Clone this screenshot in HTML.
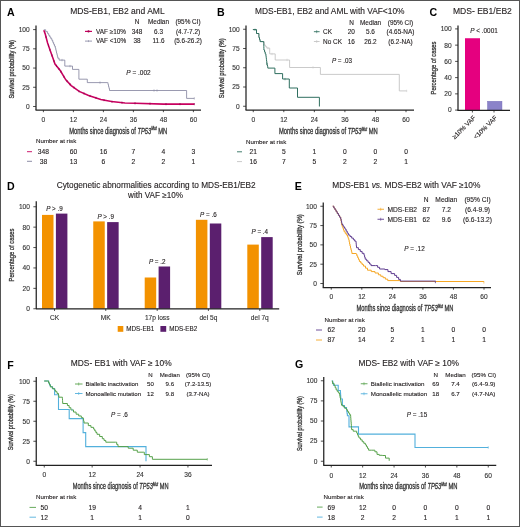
<!DOCTYPE html>
<html><head><meta charset="utf-8"><style>
html,body{margin:0;padding:0;background:#fff;}
body{width:520px;height:527px;overflow:hidden;}
svg{display:block;will-change:transform;}
text{font-family:"Liberation Sans", sans-serif;}
</style></head><body>
<svg width="520" height="527" viewBox="0 0 520 527">
<rect x="0" y="0" width="520" height="527" fill="#fff"/>
<text x="7.10" y="15.64" font-size="10.6" text-anchor="start" fill="#000" stroke="#000" stroke-width="0" font-weight="bold" font-style="normal" >A</text>
<text x="117.40" y="14.24" font-size="8.5" text-anchor="middle" fill="#231f20" stroke="#231f20" stroke-width="0.12" font-weight="normal" font-style="normal" >MDS-EB1, EB2 and AML</text>
<line x1="36" y1="25.5" x2="36" y2="110" stroke="#222" stroke-width="1.25"/>
<line x1="33.1" y1="29.599999999999994" x2="36" y2="29.599999999999994" stroke="#222" stroke-width="0.8"/>
<text x="29.70" y="31.96" font-size="6.6" text-anchor="end" fill="#333" stroke="#333" stroke-width="0.12" font-weight="normal" font-style="normal" >100</text>
<line x1="33.1" y1="48.825" x2="36" y2="48.825" stroke="#222" stroke-width="0.8"/>
<text x="29.70" y="51.19" font-size="6.6" text-anchor="end" fill="#333" stroke="#333" stroke-width="0.12" font-weight="normal" font-style="normal" >75</text>
<line x1="33.1" y1="68.05" x2="36" y2="68.05" stroke="#222" stroke-width="0.8"/>
<text x="29.70" y="70.41" font-size="6.6" text-anchor="end" fill="#333" stroke="#333" stroke-width="0.12" font-weight="normal" font-style="normal" >50</text>
<line x1="33.1" y1="87.275" x2="36" y2="87.275" stroke="#222" stroke-width="0.8"/>
<text x="29.70" y="89.64" font-size="6.6" text-anchor="end" fill="#333" stroke="#333" stroke-width="0.12" font-weight="normal" font-style="normal" >25</text>
<line x1="33.1" y1="106.5" x2="36" y2="106.5" stroke="#222" stroke-width="0.8"/>
<text x="29.70" y="108.86" font-size="6.6" text-anchor="end" fill="#333" stroke="#333" stroke-width="0.12" font-weight="normal" font-style="normal" >0</text>
<line x1="35.5" y1="110" x2="201" y2="110" stroke="#222" stroke-width="1.25"/>
<line x1="43.4" y1="110" x2="43.4" y2="112.2" stroke="#222" stroke-width="0.8"/>
<text x="43.40" y="121.86" font-size="6.6" text-anchor="middle" fill="#333" stroke="#333" stroke-width="0.12" font-weight="normal" font-style="normal" >0</text>
<line x1="73.4" y1="110" x2="73.4" y2="112.2" stroke="#222" stroke-width="0.8"/>
<text x="73.40" y="121.86" font-size="6.6" text-anchor="middle" fill="#333" stroke="#333" stroke-width="0.12" font-weight="normal" font-style="normal" >12</text>
<line x1="103.4" y1="110" x2="103.4" y2="112.2" stroke="#222" stroke-width="0.8"/>
<text x="103.40" y="121.86" font-size="6.6" text-anchor="middle" fill="#333" stroke="#333" stroke-width="0.12" font-weight="normal" font-style="normal" >24</text>
<line x1="133.4" y1="110" x2="133.4" y2="112.2" stroke="#222" stroke-width="0.8"/>
<text x="133.40" y="121.86" font-size="6.6" text-anchor="middle" fill="#333" stroke="#333" stroke-width="0.12" font-weight="normal" font-style="normal" >36</text>
<line x1="163.4" y1="110" x2="163.4" y2="112.2" stroke="#222" stroke-width="0.8"/>
<text x="163.40" y="121.86" font-size="6.6" text-anchor="middle" fill="#333" stroke="#333" stroke-width="0.12" font-weight="normal" font-style="normal" >48</text>
<line x1="193.4" y1="110" x2="193.4" y2="112.2" stroke="#222" stroke-width="0.8"/>
<text x="193.40" y="121.86" font-size="6.6" text-anchor="middle" fill="#333" stroke="#333" stroke-width="0.12" font-weight="normal" font-style="normal" >60</text>
<text x="0" y="0" transform="translate(14.06,69.30) rotate(-90)" font-size="8" text-anchor="middle" fill="#333" stroke="#333" stroke-width="0.3" textLength="58.5" lengthAdjust="spacingAndGlyphs">Survival probability (%)</text>
<text x="118.30" y="133.64" font-size="8.5" text-anchor="middle" fill="#333" stroke="#333" stroke-width="0.3" textLength="98" lengthAdjust="spacingAndGlyphs">Months since diagnosis of <tspan font-style="italic">TP53</tspan><tspan font-style="italic" font-size="4.8" dy="-3.2">Mut</tspan><tspan dy="3.2"> MN</tspan></text>
<text x="137.00" y="24.39" font-size="6.4" text-anchor="middle" fill="#231f20" stroke="#231f20" stroke-width="0.12" font-weight="normal" font-style="normal" >N</text>
<text x="158.50" y="24.39" font-size="6.4" text-anchor="middle" fill="#231f20" stroke="#231f20" stroke-width="0.12" font-weight="normal" font-style="normal" >Median</text>
<text x="188.00" y="24.39" font-size="6.4" text-anchor="middle" fill="#231f20" stroke="#231f20" stroke-width="0.12" font-weight="normal" font-style="normal" >(95% CI)</text>
<line x1="85" y1="31.4" x2="92" y2="31.4" stroke="#c8005f" stroke-width="1.2"/>
<circle cx="88.5" cy="31.4" r="1.1" fill="#a8004f"/>
<line x1="85" y1="41.1" x2="92" y2="41.1" stroke="#80809c" stroke-width="0.8"/>
<line x1="88.50" y1="40.10" x2="88.50" y2="42.10" stroke="#80809c" stroke-width="0.5"/>
<text x="96.00" y="33.69" font-size="6.4" text-anchor="start" fill="#231f20" stroke="#231f20" stroke-width="0.12" font-weight="normal" font-style="normal" >VAF ≥10%</text>
<text x="96.00" y="43.39" font-size="6.4" text-anchor="start" fill="#231f20" stroke="#231f20" stroke-width="0.12" font-weight="normal" font-style="normal" >VAF &lt;10%</text>
<text x="137.00" y="33.69" font-size="6.4" text-anchor="middle" fill="#231f20" stroke="#231f20" stroke-width="0.12" font-weight="normal" font-style="normal" >348</text>
<text x="158.50" y="33.69" font-size="6.4" text-anchor="middle" fill="#231f20" stroke="#231f20" stroke-width="0.12" font-weight="normal" font-style="normal" >6.3</text>
<text x="188.00" y="33.69" font-size="6.4" text-anchor="middle" fill="#231f20" stroke="#231f20" stroke-width="0.12" font-weight="normal" font-style="normal" >(4.7-7.2)</text>
<text x="137.00" y="43.39" font-size="6.4" text-anchor="middle" fill="#231f20" stroke="#231f20" stroke-width="0.12" font-weight="normal" font-style="normal" >38</text>
<text x="158.50" y="43.39" font-size="6.4" text-anchor="middle" fill="#231f20" stroke="#231f20" stroke-width="0.12" font-weight="normal" font-style="normal" >11.6</text>
<text x="188.00" y="43.39" font-size="6.4" text-anchor="middle" fill="#231f20" stroke="#231f20" stroke-width="0.12" font-weight="normal" font-style="normal" >(5.6-26.2)</text>
<text x="138.50" y="74.83" font-size="6.5" text-anchor="middle" fill="#231f20" stroke="#231f20" stroke-width="0.12" font-weight="normal" font-style="normal" ><tspan font-style="italic">P</tspan> = .002</text>
<path d="M43.80,29.80 L45.70,29.80 L45.70,31.70 L47.60,31.70 L47.60,33.60 L48.67,33.60 L48.67,35.30 L49.75,35.30 L49.75,37.00 L50.83,37.00 L50.83,38.70 L51.90,38.70 L51.90,40.40 L52.75,40.40 L52.75,42.30 L53.60,42.30 L53.60,44.20 L54.45,44.20 L54.45,46.10 L55.30,46.10 L55.30,48.00 L55.72,48.00 L55.72,49.70 L56.13,49.70 L56.13,51.40 L56.55,51.40 L56.55,53.10 L56.97,53.10 L56.97,54.80 L57.38,54.80 L57.38,56.50 L57.80,56.50 L57.80,58.20 L59.10,58.20 L59.10,60.10 L64.80,60.10 L64.80,66.10 L72.50,66.10 L72.50,69.40 L78.90,69.40 L78.90,79.20 L87.30,79.20 L87.30,82.60 L107.50,82.60 L108.00,82.60 L108.00,84.57 L108.50,84.57 L108.50,86.55 L109.00,86.55 L109.00,88.53 L109.50,88.53 L109.50,90.50 L186.60,90.50 L186.60,98.40 L194.30,98.40" fill="none" stroke="#80809c" stroke-width="0.8" stroke-linejoin="miter" />
<line x1="62.00" y1="58.90" x2="62.00" y2="61.30" stroke="#80809c" stroke-width="0.5"/>
<line x1="70.00" y1="64.90" x2="70.00" y2="67.30" stroke="#80809c" stroke-width="0.5"/>
<line x1="100.00" y1="81.40" x2="100.00" y2="83.80" stroke="#80809c" stroke-width="0.5"/>
<line x1="154.00" y1="89.30" x2="154.00" y2="91.70" stroke="#80809c" stroke-width="0.5"/>
<line x1="157.00" y1="89.30" x2="157.00" y2="91.70" stroke="#80809c" stroke-width="0.5"/>
<line x1="194.30" y1="97.20" x2="194.30" y2="99.60" stroke="#80809c" stroke-width="0.5"/>
<path d="M43.80,30.20 L45.10,33.60 L47.60,43.00 L50.20,50.60 L52.70,57.40 L55.00,64.00 L60.40,70.80 L65.80,79.80 L71.20,85.60 L79.20,91.40 L88.60,95.50 L100.80,99.50 L111.50,101.60 L125.00,103.00 L135.00,103.30 L163.60,104.10 L194.30,104.10" fill="none" stroke="#c8005f" stroke-width="1.55" stroke-linejoin="miter" />
<line x1="46.00" y1="35.88" x2="46.00" y2="38.08" stroke="#90004a" stroke-width="0.7"/>
<line x1="48.50" y1="44.53" x2="48.50" y2="46.73" stroke="#90004a" stroke-width="0.7"/>
<line x1="50.00" y1="48.92" x2="50.00" y2="51.12" stroke="#90004a" stroke-width="0.7"/>
<line x1="52.00" y1="54.40" x2="52.00" y2="56.60" stroke="#90004a" stroke-width="0.7"/>
<line x1="54.00" y1="60.03" x2="54.00" y2="62.23" stroke="#90004a" stroke-width="0.7"/>
<line x1="56.50" y1="64.79" x2="56.50" y2="66.99" stroke="#90004a" stroke-width="0.7"/>
<line x1="59.00" y1="67.94" x2="59.00" y2="70.14" stroke="#90004a" stroke-width="0.7"/>
<line x1="61.00" y1="70.70" x2="61.00" y2="72.90" stroke="#90004a" stroke-width="0.7"/>
<line x1="64.00" y1="75.70" x2="64.00" y2="77.90" stroke="#90004a" stroke-width="0.7"/>
<line x1="67.00" y1="79.99" x2="67.00" y2="82.19" stroke="#90004a" stroke-width="0.7"/>
<line x1="70.00" y1="83.21" x2="70.00" y2="85.41" stroke="#90004a" stroke-width="0.7"/>
<line x1="74.00" y1="86.53" x2="74.00" y2="88.73" stroke="#90004a" stroke-width="0.7"/>
<line x1="79.00" y1="90.16" x2="79.00" y2="92.36" stroke="#90004a" stroke-width="0.7"/>
<line x1="84.00" y1="92.39" x2="84.00" y2="94.59" stroke="#90004a" stroke-width="0.7"/>
<line x1="90.00" y1="94.86" x2="90.00" y2="97.06" stroke="#90004a" stroke-width="0.7"/>
<line x1="96.00" y1="96.83" x2="96.00" y2="99.03" stroke="#90004a" stroke-width="0.7"/>
<line x1="104.00" y1="99.03" x2="104.00" y2="101.23" stroke="#90004a" stroke-width="0.7"/>
<line x1="112.00" y1="100.55" x2="112.00" y2="102.75" stroke="#90004a" stroke-width="0.7"/>
<line x1="122.00" y1="101.59" x2="122.00" y2="103.79" stroke="#90004a" stroke-width="0.7"/>
<line x1="135.00" y1="102.20" x2="135.00" y2="104.40" stroke="#90004a" stroke-width="0.7"/>
<line x1="150.00" y1="102.62" x2="150.00" y2="104.82" stroke="#90004a" stroke-width="0.7"/>
<line x1="166.00" y1="103.00" x2="166.00" y2="105.20" stroke="#90004a" stroke-width="0.7"/>
<line x1="180.00" y1="103.00" x2="180.00" y2="105.20" stroke="#90004a" stroke-width="0.7"/>
<line x1="194.30" y1="103.00" x2="194.30" y2="105.20" stroke="#90004a" stroke-width="0.7"/>
<text x="36.00" y="143.22" font-size="6.2" text-anchor="start" fill="#231f20" stroke="#231f20" stroke-width="0.12" font-weight="normal" font-style="normal" >Number at risk</text>
<line x1="27" y1="151.7" x2="32" y2="151.7" stroke="#c8005f" stroke-width="0.9"/>
<line x1="27" y1="161.3" x2="32" y2="161.3" stroke="#80809c" stroke-width="0.9"/>
<text x="43.40" y="154.10" font-size="6.7" text-anchor="middle" fill="#231f20" stroke="#231f20" stroke-width="0.12" font-weight="normal" font-style="normal" >348</text>
<text x="73.40" y="154.10" font-size="6.7" text-anchor="middle" fill="#231f20" stroke="#231f20" stroke-width="0.12" font-weight="normal" font-style="normal" >60</text>
<text x="103.40" y="154.10" font-size="6.7" text-anchor="middle" fill="#231f20" stroke="#231f20" stroke-width="0.12" font-weight="normal" font-style="normal" >16</text>
<text x="133.40" y="154.10" font-size="6.7" text-anchor="middle" fill="#231f20" stroke="#231f20" stroke-width="0.12" font-weight="normal" font-style="normal" >7</text>
<text x="163.40" y="154.10" font-size="6.7" text-anchor="middle" fill="#231f20" stroke="#231f20" stroke-width="0.12" font-weight="normal" font-style="normal" >4</text>
<text x="193.40" y="154.10" font-size="6.7" text-anchor="middle" fill="#231f20" stroke="#231f20" stroke-width="0.12" font-weight="normal" font-style="normal" >3</text>
<text x="43.40" y="163.70" font-size="6.7" text-anchor="middle" fill="#231f20" stroke="#231f20" stroke-width="0.12" font-weight="normal" font-style="normal" >38</text>
<text x="73.40" y="163.70" font-size="6.7" text-anchor="middle" fill="#231f20" stroke="#231f20" stroke-width="0.12" font-weight="normal" font-style="normal" >13</text>
<text x="103.40" y="163.70" font-size="6.7" text-anchor="middle" fill="#231f20" stroke="#231f20" stroke-width="0.12" font-weight="normal" font-style="normal" >6</text>
<text x="133.40" y="163.70" font-size="6.7" text-anchor="middle" fill="#231f20" stroke="#231f20" stroke-width="0.12" font-weight="normal" font-style="normal" >2</text>
<text x="163.40" y="163.70" font-size="6.7" text-anchor="middle" fill="#231f20" stroke="#231f20" stroke-width="0.12" font-weight="normal" font-style="normal" >2</text>
<text x="193.40" y="163.70" font-size="6.7" text-anchor="middle" fill="#231f20" stroke="#231f20" stroke-width="0.12" font-weight="normal" font-style="normal" >1</text>
<text x="216.90" y="16.34" font-size="10.6" text-anchor="start" fill="#000" stroke="#000" stroke-width="0" font-weight="bold" font-style="normal" >B</text>
<text x="329.80" y="14.30" font-size="8.37" text-anchor="middle" fill="#231f20" stroke="#231f20" stroke-width="0.12" font-weight="normal" font-style="normal" >MDS-EB1, EB2 and AML with VAF&lt;10%</text>
<line x1="246" y1="25.5" x2="246" y2="110" stroke="#222" stroke-width="1.25"/>
<line x1="243.1" y1="29.25" x2="246" y2="29.25" stroke="#222" stroke-width="0.8"/>
<text x="239.70" y="31.61" font-size="6.6" text-anchor="end" fill="#333" stroke="#333" stroke-width="0.12" font-weight="normal" font-style="normal" >100</text>
<line x1="243.1" y1="48.5" x2="246" y2="48.5" stroke="#222" stroke-width="0.8"/>
<text x="239.70" y="50.86" font-size="6.6" text-anchor="end" fill="#333" stroke="#333" stroke-width="0.12" font-weight="normal" font-style="normal" >75</text>
<line x1="243.1" y1="67.75" x2="246" y2="67.75" stroke="#222" stroke-width="0.8"/>
<text x="239.70" y="70.11" font-size="6.6" text-anchor="end" fill="#333" stroke="#333" stroke-width="0.12" font-weight="normal" font-style="normal" >50</text>
<line x1="243.1" y1="87.0" x2="246" y2="87.0" stroke="#222" stroke-width="0.8"/>
<text x="239.70" y="89.36" font-size="6.6" text-anchor="end" fill="#333" stroke="#333" stroke-width="0.12" font-weight="normal" font-style="normal" >25</text>
<line x1="243.1" y1="106.25" x2="246" y2="106.25" stroke="#222" stroke-width="0.8"/>
<text x="239.70" y="108.61" font-size="6.6" text-anchor="end" fill="#333" stroke="#333" stroke-width="0.12" font-weight="normal" font-style="normal" >0</text>
<line x1="245.5" y1="110" x2="414" y2="110" stroke="#222" stroke-width="1.25"/>
<line x1="253.25" y1="110" x2="253.25" y2="112.2" stroke="#222" stroke-width="0.8"/>
<text x="253.25" y="121.86" font-size="6.6" text-anchor="middle" fill="#333" stroke="#333" stroke-width="0.12" font-weight="normal" font-style="normal" >0</text>
<line x1="283.8" y1="110" x2="283.8" y2="112.2" stroke="#222" stroke-width="0.8"/>
<text x="283.80" y="121.86" font-size="6.6" text-anchor="middle" fill="#333" stroke="#333" stroke-width="0.12" font-weight="normal" font-style="normal" >12</text>
<line x1="314.35" y1="110" x2="314.35" y2="112.2" stroke="#222" stroke-width="0.8"/>
<text x="314.35" y="121.86" font-size="6.6" text-anchor="middle" fill="#333" stroke="#333" stroke-width="0.12" font-weight="normal" font-style="normal" >24</text>
<line x1="344.9" y1="110" x2="344.9" y2="112.2" stroke="#222" stroke-width="0.8"/>
<text x="344.90" y="121.86" font-size="6.6" text-anchor="middle" fill="#333" stroke="#333" stroke-width="0.12" font-weight="normal" font-style="normal" >36</text>
<line x1="375.45" y1="110" x2="375.45" y2="112.2" stroke="#222" stroke-width="0.8"/>
<text x="375.45" y="121.86" font-size="6.6" text-anchor="middle" fill="#333" stroke="#333" stroke-width="0.12" font-weight="normal" font-style="normal" >48</text>
<line x1="406.0" y1="110" x2="406.0" y2="112.2" stroke="#222" stroke-width="0.8"/>
<text x="406.00" y="121.86" font-size="6.6" text-anchor="middle" fill="#333" stroke="#333" stroke-width="0.12" font-weight="normal" font-style="normal" >60</text>
<text x="0" y="0" transform="translate(224.06,68.20) rotate(-90)" font-size="8" text-anchor="middle" fill="#333" stroke="#333" stroke-width="0.3" textLength="60" lengthAdjust="spacingAndGlyphs">Survival probability (%)</text>
<text x="328.40" y="133.84" font-size="8.5" text-anchor="middle" fill="#333" stroke="#333" stroke-width="0.3" textLength="98.8" lengthAdjust="spacingAndGlyphs">Months since diagnosis of <tspan font-style="italic">TP53</tspan><tspan font-style="italic" font-size="4.8" dy="-3.2">Mut</tspan><tspan dy="3.2"> MN</tspan></text>
<text x="351.50" y="25.11" font-size="6.45" text-anchor="middle" fill="#231f20" stroke="#231f20" stroke-width="0.12" font-weight="normal" font-style="normal" >N</text>
<text x="370.50" y="25.11" font-size="6.45" text-anchor="middle" fill="#231f20" stroke="#231f20" stroke-width="0.12" font-weight="normal" font-style="normal" >Median</text>
<text x="400.50" y="25.11" font-size="6.45" text-anchor="middle" fill="#231f20" stroke="#231f20" stroke-width="0.12" font-weight="normal" font-style="normal" >(95% CI)</text>
<line x1="313.9" y1="31.7" x2="319.6" y2="31.7" stroke="#2f6f5f" stroke-width="0.9"/>
<line x1="316.70" y1="30.20" x2="316.70" y2="33.20" stroke="#2f6f5f" stroke-width="0.6"/>
<line x1="313.9" y1="41.5" x2="319.6" y2="41.5" stroke="#c4c4c4" stroke-width="0.9"/>
<line x1="316.70" y1="40.00" x2="316.70" y2="43.00" stroke="#c4c4c4" stroke-width="0.6"/>
<text x="323.10" y="34.01" font-size="6.45" text-anchor="start" fill="#231f20" stroke="#231f20" stroke-width="0.12" font-weight="normal" font-style="normal" >CK</text>
<text x="323.10" y="43.81" font-size="6.45" text-anchor="start" fill="#231f20" stroke="#231f20" stroke-width="0.12" font-weight="normal" font-style="normal" >No CK</text>
<text x="351.30" y="34.01" font-size="6.45" text-anchor="middle" fill="#231f20" stroke="#231f20" stroke-width="0.12" font-weight="normal" font-style="normal" >20</text>
<text x="370.40" y="34.01" font-size="6.45" text-anchor="middle" fill="#231f20" stroke="#231f20" stroke-width="0.12" font-weight="normal" font-style="normal" >5.6</text>
<text x="400.50" y="34.01" font-size="6.45" text-anchor="middle" fill="#231f20" stroke="#231f20" stroke-width="0.12" font-weight="normal" font-style="normal" >(4.65-NA)</text>
<text x="351.30" y="43.81" font-size="6.45" text-anchor="middle" fill="#231f20" stroke="#231f20" stroke-width="0.12" font-weight="normal" font-style="normal" >16</text>
<text x="370.40" y="43.81" font-size="6.45" text-anchor="middle" fill="#231f20" stroke="#231f20" stroke-width="0.12" font-weight="normal" font-style="normal" >26.2</text>
<text x="400.50" y="43.81" font-size="6.45" text-anchor="middle" fill="#231f20" stroke="#231f20" stroke-width="0.12" font-weight="normal" font-style="normal" >(6.2-NA)</text>
<text x="342.00" y="62.56" font-size="6.3" text-anchor="middle" fill="#231f20" stroke="#231f20" stroke-width="0.12" font-weight="normal" font-style="normal" ><tspan font-style="italic">P</tspan> = .03</text>
<path d="M252.90,29.60 L256.50,29.60 L256.50,33.50 L258.90,33.50 L258.90,37.50 L259.50,37.50 L259.50,39.55 L260.10,39.55 L260.10,41.60 L263.70,41.60 L264.05,41.60 L264.05,43.40 L264.40,43.40 L264.40,45.20 L265.60,45.20 L265.60,46.65 L266.80,46.65 L266.80,48.10 L269.70,48.10 L269.70,50.00 L269.70,53.90 L275.20,53.90 L275.20,60.00 L289.60,60.00 L289.60,67.50 L320.40,67.50 L320.40,74.40 L399.30,74.40 L399.30,90.90 L406.70,90.90" fill="none" stroke="#c4c4c4" stroke-width="0.9" stroke-linejoin="miter" />
<line x1="268.00" y1="47.00" x2="268.00" y2="49.40" stroke="#c4c4c4" stroke-width="0.5"/>
<line x1="272.00" y1="52.80" x2="272.00" y2="55.20" stroke="#c4c4c4" stroke-width="0.5"/>
<line x1="287.00" y1="58.70" x2="287.00" y2="61.10" stroke="#c4c4c4" stroke-width="0.5"/>
<line x1="313.00" y1="66.20" x2="313.00" y2="68.60" stroke="#c4c4c4" stroke-width="0.5"/>
<line x1="406.70" y1="89.70" x2="406.70" y2="92.10" stroke="#c4c4c4" stroke-width="0.5"/>
<path d="M252.90,29.60 L256.50,29.60 L256.50,33.50 L258.90,33.50 L258.90,37.50 L259.50,37.50 L259.50,39.55 L260.10,39.55 L260.10,41.60 L263.70,41.60 L263.74,41.60 L263.74,43.28 L263.78,43.28 L263.78,44.96 L263.82,44.96 L263.82,46.64 L263.86,46.64 L263.86,48.32 L263.90,48.32 L263.90,50.00 L264.57,50.00 L264.57,51.93 L265.23,51.93 L265.23,53.87 L265.90,53.87 L265.90,55.80 L266.12,55.80 L266.12,57.60 L266.35,57.60 L266.35,59.40 L266.57,59.40 L266.57,61.20 L266.80,61.20 L266.80,63.00 L267.13,63.00 L267.13,64.70 L267.47,64.70 L267.47,66.40 L267.80,66.40 L267.80,68.10 L274.90,68.10 L274.90,73.60 L282.60,73.60 L282.60,79.00 L289.30,79.00 L289.30,88.00 L297.50,88.00 L297.50,97.30 L319.40,97.30 L319.40,106.50" fill="none" stroke="#2f6f5f" stroke-width="1.0" stroke-linejoin="miter" />
<line x1="255.00" y1="28.60" x2="255.00" y2="31.00" stroke="#2f6f5f" stroke-width="0.5"/>
<line x1="266.50" y1="62.80" x2="266.50" y2="65.20" stroke="#2f6f5f" stroke-width="0.5"/>
<line x1="285.00" y1="77.90" x2="285.00" y2="80.30" stroke="#2f6f5f" stroke-width="0.5"/>
<text x="246.00" y="143.62" font-size="6.2" text-anchor="start" fill="#231f20" stroke="#231f20" stroke-width="0.12" font-weight="normal" font-style="normal" >Number at risk</text>
<line x1="237" y1="151.8" x2="242" y2="151.8" stroke="#2f6f5f" stroke-width="0.9"/>
<line x1="237" y1="161.6" x2="242" y2="161.6" stroke="#c4c4c4" stroke-width="0.9"/>
<text x="253.25" y="154.20" font-size="6.7" text-anchor="middle" fill="#231f20" stroke="#231f20" stroke-width="0.12" font-weight="normal" font-style="normal" >21</text>
<text x="283.80" y="154.20" font-size="6.7" text-anchor="middle" fill="#231f20" stroke="#231f20" stroke-width="0.12" font-weight="normal" font-style="normal" >5</text>
<text x="314.35" y="154.20" font-size="6.7" text-anchor="middle" fill="#231f20" stroke="#231f20" stroke-width="0.12" font-weight="normal" font-style="normal" >1</text>
<text x="344.90" y="154.20" font-size="6.7" text-anchor="middle" fill="#231f20" stroke="#231f20" stroke-width="0.12" font-weight="normal" font-style="normal" >0</text>
<text x="375.45" y="154.20" font-size="6.7" text-anchor="middle" fill="#231f20" stroke="#231f20" stroke-width="0.12" font-weight="normal" font-style="normal" >0</text>
<text x="406.00" y="154.20" font-size="6.7" text-anchor="middle" fill="#231f20" stroke="#231f20" stroke-width="0.12" font-weight="normal" font-style="normal" >0</text>
<text x="253.25" y="164.00" font-size="6.7" text-anchor="middle" fill="#231f20" stroke="#231f20" stroke-width="0.12" font-weight="normal" font-style="normal" >16</text>
<text x="283.80" y="164.00" font-size="6.7" text-anchor="middle" fill="#231f20" stroke="#231f20" stroke-width="0.12" font-weight="normal" font-style="normal" >7</text>
<text x="314.35" y="164.00" font-size="6.7" text-anchor="middle" fill="#231f20" stroke="#231f20" stroke-width="0.12" font-weight="normal" font-style="normal" >5</text>
<text x="344.90" y="164.00" font-size="6.7" text-anchor="middle" fill="#231f20" stroke="#231f20" stroke-width="0.12" font-weight="normal" font-style="normal" >2</text>
<text x="375.45" y="164.00" font-size="6.7" text-anchor="middle" fill="#231f20" stroke="#231f20" stroke-width="0.12" font-weight="normal" font-style="normal" >2</text>
<text x="406.00" y="164.00" font-size="6.7" text-anchor="middle" fill="#231f20" stroke="#231f20" stroke-width="0.12" font-weight="normal" font-style="normal" >1</text>
<text x="429.50" y="16.19" font-size="10.6" text-anchor="start" fill="#000" stroke="#000" stroke-width="0" font-weight="bold" font-style="normal" >C</text>
<text x="482.40" y="14.26" font-size="8.55" text-anchor="middle" fill="#231f20" stroke="#231f20" stroke-width="0.12" font-weight="normal" font-style="normal" >MDS- EB1/EB2</text>
<line x1="458" y1="25.5" x2="458" y2="110.5" stroke="#222" stroke-width="1.25"/>
<line x1="455.1" y1="110.1" x2="458" y2="110.1" stroke="#222" stroke-width="0.8"/>
<text x="451.70" y="112.46" font-size="6.6" text-anchor="end" fill="#333" stroke="#333" stroke-width="0.12" font-weight="normal" font-style="normal" >0</text>
<line x1="455.1" y1="93.86" x2="458" y2="93.86" stroke="#222" stroke-width="0.8"/>
<text x="451.70" y="96.22" font-size="6.6" text-anchor="end" fill="#333" stroke="#333" stroke-width="0.12" font-weight="normal" font-style="normal" >20</text>
<line x1="455.1" y1="77.62" x2="458" y2="77.62" stroke="#222" stroke-width="0.8"/>
<text x="451.70" y="79.98" font-size="6.6" text-anchor="end" fill="#333" stroke="#333" stroke-width="0.12" font-weight="normal" font-style="normal" >40</text>
<line x1="455.1" y1="61.38" x2="458" y2="61.38" stroke="#222" stroke-width="0.8"/>
<text x="451.70" y="63.74" font-size="6.6" text-anchor="end" fill="#333" stroke="#333" stroke-width="0.12" font-weight="normal" font-style="normal" >60</text>
<line x1="455.1" y1="45.14" x2="458" y2="45.14" stroke="#222" stroke-width="0.8"/>
<text x="451.70" y="47.50" font-size="6.6" text-anchor="end" fill="#333" stroke="#333" stroke-width="0.12" font-weight="normal" font-style="normal" >80</text>
<line x1="455.1" y1="28.900000000000006" x2="458" y2="28.900000000000006" stroke="#222" stroke-width="0.8"/>
<text x="451.70" y="31.26" font-size="6.6" text-anchor="end" fill="#333" stroke="#333" stroke-width="0.12" font-weight="normal" font-style="normal" >100</text>
<rect x="465" y="38.24" width="15" height="71.86" fill="#e5007f"/>
<rect x="487.4" y="101.2" width="14.6" height="8.9" fill="#8b83c9" stroke="#7a70b8" stroke-width="0.4"/>
<line x1="457.5" y1="110.3" x2="510" y2="110.3" stroke="#222" stroke-width="1.25"/>
<line x1="472.4" y1="110.3" x2="472.4" y2="112.5" stroke="#222" stroke-width="0.8"/>
<line x1="494" y1="110.3" x2="494" y2="112.5" stroke="#222" stroke-width="0.8"/>
<text x="484.00" y="33.29" font-size="6.4" text-anchor="middle" fill="#231f20" stroke="#231f20" stroke-width="0.12" font-weight="normal" font-style="normal" ><tspan font-style="italic">P</tspan> &lt; .0001</text>
<text x="0" y="0" transform="translate(436.16,68.00) rotate(-90)" font-size="8" text-anchor="middle" fill="#333" stroke="#333" stroke-width="0.3" textLength="53" lengthAdjust="spacingAndGlyphs">Percentage of cases</text>
<text transform="translate(476,118.2) rotate(-45)" font-size="6.4" text-anchor="end" fill="#231f20" stroke="#231f20" stroke-width="0.12">≥10% VAF</text>
<text transform="translate(497.5,118.2) rotate(-45)" font-size="6.4" text-anchor="end" fill="#231f20" stroke="#231f20" stroke-width="0.12">&lt;10% VAF</text>
<text x="7.00" y="189.79" font-size="10.6" text-anchor="start" fill="#000" stroke="#000" stroke-width="0" font-weight="bold" font-style="normal" >D</text>
<text x="156.20" y="188.15" font-size="8.25" text-anchor="middle" fill="#231f20" stroke="#231f20" stroke-width="0.12" font-weight="normal" font-style="normal" >Cytogenetic abnormalities according to MDS-EB1/EB2</text>
<text x="155.50" y="198.42" font-size="8.15" text-anchor="middle" fill="#231f20" stroke="#231f20" stroke-width="0.12" font-weight="normal" font-style="normal" >with VAF ≥10%</text>
<line x1="36.25" y1="201.2" x2="36.25" y2="309" stroke="#222" stroke-width="1.25"/>
<line x1="33.35" y1="308.75" x2="36.25" y2="308.75" stroke="#222" stroke-width="0.8"/>
<text x="29.95" y="311.11" font-size="6.6" text-anchor="end" fill="#333" stroke="#333" stroke-width="0.12" font-weight="normal" font-style="normal" >0</text>
<line x1="33.35" y1="288.35" x2="36.25" y2="288.35" stroke="#222" stroke-width="0.8"/>
<text x="29.95" y="290.71" font-size="6.6" text-anchor="end" fill="#333" stroke="#333" stroke-width="0.12" font-weight="normal" font-style="normal" >20</text>
<line x1="33.35" y1="267.95" x2="36.25" y2="267.95" stroke="#222" stroke-width="0.8"/>
<text x="29.95" y="270.31" font-size="6.6" text-anchor="end" fill="#333" stroke="#333" stroke-width="0.12" font-weight="normal" font-style="normal" >40</text>
<line x1="33.35" y1="247.55" x2="36.25" y2="247.55" stroke="#222" stroke-width="0.8"/>
<text x="29.95" y="249.91" font-size="6.6" text-anchor="end" fill="#333" stroke="#333" stroke-width="0.12" font-weight="normal" font-style="normal" >60</text>
<line x1="33.35" y1="227.15" x2="36.25" y2="227.15" stroke="#222" stroke-width="0.8"/>
<text x="29.95" y="229.51" font-size="6.6" text-anchor="end" fill="#333" stroke="#333" stroke-width="0.12" font-weight="normal" font-style="normal" >80</text>
<line x1="33.35" y1="206.75" x2="36.25" y2="206.75" stroke="#222" stroke-width="0.8"/>
<text x="29.95" y="209.11" font-size="6.6" text-anchor="end" fill="#333" stroke="#333" stroke-width="0.12" font-weight="normal" font-style="normal" >100</text>
<rect x="42.00" y="214.90" width="11.5" height="93.85" fill="#f39200"/>
<rect x="55.90" y="213.60" width="11.5" height="95.15" fill="#5b1f6e"/>
<text x="54.50" y="211.16" font-size="6.3" text-anchor="middle" fill="#231f20" stroke="#231f20" stroke-width="0.12" font-weight="normal" font-style="normal" ><tspan font-style="italic">P</tspan> &gt; .9</text>
<rect x="93.25" y="221.40" width="11.5" height="87.35" fill="#f39200"/>
<rect x="107.15" y="222.10" width="11.5" height="86.65" fill="#5b1f6e"/>
<text x="105.75" y="218.86" font-size="6.3" text-anchor="middle" fill="#231f20" stroke="#231f20" stroke-width="0.12" font-weight="normal" font-style="normal" ><tspan font-style="italic">P</tspan> &gt; .9</text>
<rect x="144.70" y="277.50" width="11.5" height="31.25" fill="#f39200"/>
<rect x="158.60" y="266.50" width="11.5" height="42.25" fill="#5b1f6e"/>
<text x="157.20" y="263.66" font-size="6.3" text-anchor="middle" fill="#231f20" stroke="#231f20" stroke-width="0.12" font-weight="normal" font-style="normal" ><tspan font-style="italic">P</tspan> = .2</text>
<rect x="195.90" y="219.80" width="11.5" height="88.95" fill="#f39200"/>
<rect x="209.80" y="223.50" width="11.5" height="85.25" fill="#5b1f6e"/>
<text x="208.40" y="217.26" font-size="6.3" text-anchor="middle" fill="#231f20" stroke="#231f20" stroke-width="0.12" font-weight="normal" font-style="normal" ><tspan font-style="italic">P</tspan> = .6</text>
<rect x="247.30" y="244.60" width="11.5" height="64.15" fill="#f39200"/>
<rect x="261.20" y="237.10" width="11.5" height="71.65" fill="#5b1f6e"/>
<text x="259.80" y="233.86" font-size="6.3" text-anchor="middle" fill="#231f20" stroke="#231f20" stroke-width="0.12" font-weight="normal" font-style="normal" ><tspan font-style="italic">P</tspan> = .4</text>
<line x1="36" y1="308.75" x2="279.2" y2="308.75" stroke="#222" stroke-width="1.25"/>
<line x1="54.5" y1="308.75" x2="54.5" y2="310.95" stroke="#222" stroke-width="0.8"/>
<text x="54.50" y="319.86" font-size="6.6" text-anchor="middle" fill="#333" stroke="#333" stroke-width="0.12" font-weight="normal" font-style="normal" >CK</text>
<line x1="105.75" y1="308.75" x2="105.75" y2="310.95" stroke="#222" stroke-width="0.8"/>
<text x="105.75" y="319.86" font-size="6.6" text-anchor="middle" fill="#333" stroke="#333" stroke-width="0.12" font-weight="normal" font-style="normal" >MK</text>
<line x1="157.2" y1="308.75" x2="157.2" y2="310.95" stroke="#222" stroke-width="0.8"/>
<text x="157.20" y="319.86" font-size="6.6" text-anchor="middle" fill="#333" stroke="#333" stroke-width="0.12" font-weight="normal" font-style="normal" >17p loss</text>
<line x1="208.4" y1="308.75" x2="208.4" y2="310.95" stroke="#222" stroke-width="0.8"/>
<text x="208.40" y="319.86" font-size="6.6" text-anchor="middle" fill="#333" stroke="#333" stroke-width="0.12" font-weight="normal" font-style="normal" >del 5q</text>
<line x1="259.8" y1="308.75" x2="259.8" y2="310.95" stroke="#222" stroke-width="0.8"/>
<text x="259.80" y="319.86" font-size="6.6" text-anchor="middle" fill="#333" stroke="#333" stroke-width="0.12" font-weight="normal" font-style="normal" >del 7q</text>
<text x="0" y="0" transform="translate(14.06,255.00) rotate(-90)" font-size="8" text-anchor="middle" fill="#333" stroke="#333" stroke-width="0.3" textLength="53" lengthAdjust="spacingAndGlyphs">Percentage of cases</text>
<rect x="117.7" y="326" width="5.6" height="5.8" fill="#f39200"/>
<text x="126.30" y="331.46" font-size="6.3" text-anchor="start" fill="#231f20" stroke="#231f20" stroke-width="0.12" font-weight="normal" font-style="normal" >MDS-EB1</text>
<rect x="160.4" y="326" width="5.8" height="5.8" fill="#5b1f6e"/>
<text x="169.20" y="331.46" font-size="6.3" text-anchor="start" fill="#231f20" stroke="#231f20" stroke-width="0.12" font-weight="normal" font-style="normal" >MDS-EB2</text>
<text x="294.80" y="189.64" font-size="10.6" text-anchor="start" fill="#000" stroke="#000" stroke-width="0" font-weight="bold" font-style="normal" >E</text>
<text x="406.3" y="187.59" font-size="8.35" stroke="#231f20" stroke-width="0.12" text-anchor="middle" fill="#231f20">MDS-EB1 <tspan font-style="italic">vs.</tspan> MDS-EB2 with VAF ≥10%</text>
<line x1="323.25" y1="202.5" x2="323.25" y2="287.5" stroke="#222" stroke-width="1.25"/>
<line x1="320.35" y1="206.25" x2="323.25" y2="206.25" stroke="#222" stroke-width="0.8"/>
<text x="316.95" y="208.61" font-size="6.6" text-anchor="end" fill="#333" stroke="#333" stroke-width="0.12" font-weight="normal" font-style="normal" >100</text>
<line x1="320.35" y1="225.5625" x2="323.25" y2="225.5625" stroke="#222" stroke-width="0.8"/>
<text x="316.95" y="227.93" font-size="6.6" text-anchor="end" fill="#333" stroke="#333" stroke-width="0.12" font-weight="normal" font-style="normal" >75</text>
<line x1="320.35" y1="244.875" x2="323.25" y2="244.875" stroke="#222" stroke-width="0.8"/>
<text x="316.95" y="247.24" font-size="6.6" text-anchor="end" fill="#333" stroke="#333" stroke-width="0.12" font-weight="normal" font-style="normal" >50</text>
<line x1="320.35" y1="264.1875" x2="323.25" y2="264.1875" stroke="#222" stroke-width="0.8"/>
<text x="316.95" y="266.55" font-size="6.6" text-anchor="end" fill="#333" stroke="#333" stroke-width="0.12" font-weight="normal" font-style="normal" >25</text>
<line x1="320.35" y1="283.5" x2="323.25" y2="283.5" stroke="#222" stroke-width="0.8"/>
<text x="316.95" y="285.86" font-size="6.6" text-anchor="end" fill="#333" stroke="#333" stroke-width="0.12" font-weight="normal" font-style="normal" >0</text>
<line x1="322.7" y1="287.5" x2="491" y2="287.5" stroke="#222" stroke-width="1.25"/>
<line x1="331.25" y1="287.5" x2="331.25" y2="289.7" stroke="#222" stroke-width="0.8"/>
<text x="331.25" y="299.36" font-size="6.6" text-anchor="middle" fill="#333" stroke="#333" stroke-width="0.12" font-weight="normal" font-style="normal" >0</text>
<line x1="361.8" y1="287.5" x2="361.8" y2="289.7" stroke="#222" stroke-width="0.8"/>
<text x="361.80" y="299.36" font-size="6.6" text-anchor="middle" fill="#333" stroke="#333" stroke-width="0.12" font-weight="normal" font-style="normal" >12</text>
<line x1="392.35" y1="287.5" x2="392.35" y2="289.7" stroke="#222" stroke-width="0.8"/>
<text x="392.35" y="299.36" font-size="6.6" text-anchor="middle" fill="#333" stroke="#333" stroke-width="0.12" font-weight="normal" font-style="normal" >24</text>
<line x1="422.9" y1="287.5" x2="422.9" y2="289.7" stroke="#222" stroke-width="0.8"/>
<text x="422.90" y="299.36" font-size="6.6" text-anchor="middle" fill="#333" stroke="#333" stroke-width="0.12" font-weight="normal" font-style="normal" >36</text>
<line x1="453.45" y1="287.5" x2="453.45" y2="289.7" stroke="#222" stroke-width="0.8"/>
<text x="453.45" y="299.36" font-size="6.6" text-anchor="middle" fill="#333" stroke="#333" stroke-width="0.12" font-weight="normal" font-style="normal" >48</text>
<line x1="484.0" y1="287.5" x2="484.0" y2="289.7" stroke="#222" stroke-width="0.8"/>
<text x="484.00" y="299.36" font-size="6.6" text-anchor="middle" fill="#333" stroke="#333" stroke-width="0.12" font-weight="normal" font-style="normal" >60</text>
<text x="0" y="0" transform="translate(301.56,244.70) rotate(-90)" font-size="8" text-anchor="middle" fill="#333" stroke="#333" stroke-width="0.3" textLength="61" lengthAdjust="spacingAndGlyphs">Survival probability (%)</text>
<text x="405.00" y="311.24" font-size="8.5" text-anchor="middle" fill="#333" stroke="#333" stroke-width="0.3" textLength="97" lengthAdjust="spacingAndGlyphs">Months since diagnosis of <tspan font-style="italic">TP53</tspan><tspan font-style="italic" font-size="4.8" dy="-3.2">Mut</tspan><tspan dy="3.2"> MN</tspan></text>
<text x="426.25" y="202.38" font-size="6.65" text-anchor="middle" fill="#231f20" stroke="#231f20" stroke-width="0.12" font-weight="normal" font-style="normal" >N</text>
<text x="446.25" y="202.38" font-size="6.65" text-anchor="middle" fill="#231f20" stroke="#231f20" stroke-width="0.12" font-weight="normal" font-style="normal" >Median</text>
<text x="477.50" y="202.38" font-size="6.65" text-anchor="middle" fill="#231f20" stroke="#231f20" stroke-width="0.12" font-weight="normal" font-style="normal" >(95% CI)</text>
<line x1="377.5" y1="209.25" x2="384" y2="209.25" stroke="#f5a623" stroke-width="0.9"/>
<line x1="380.70" y1="207.75" x2="380.70" y2="210.75" stroke="#f5a623" stroke-width="0.6"/>
<line x1="377.5" y1="219.25" x2="384" y2="219.25" stroke="#5e3c8f" stroke-width="0.9"/>
<line x1="380.70" y1="217.75" x2="380.70" y2="220.75" stroke="#5e3c8f" stroke-width="0.6"/>
<text x="387.50" y="211.63" font-size="6.65" text-anchor="start" fill="#231f20" stroke="#231f20" stroke-width="0.12" font-weight="normal" font-style="normal" >MDS-EB2</text>
<text x="387.50" y="221.63" font-size="6.65" text-anchor="start" fill="#231f20" stroke="#231f20" stroke-width="0.12" font-weight="normal" font-style="normal" >MDS-EB1</text>
<text x="426.25" y="211.63" font-size="6.65" text-anchor="middle" fill="#231f20" stroke="#231f20" stroke-width="0.12" font-weight="normal" font-style="normal" >87</text>
<text x="446.25" y="211.63" font-size="6.65" text-anchor="middle" fill="#231f20" stroke="#231f20" stroke-width="0.12" font-weight="normal" font-style="normal" >7.2</text>
<text x="477.50" y="211.63" font-size="6.65" text-anchor="middle" fill="#231f20" stroke="#231f20" stroke-width="0.12" font-weight="normal" font-style="normal" >(6.4-9.9)</text>
<text x="426.25" y="221.63" font-size="6.65" text-anchor="middle" fill="#231f20" stroke="#231f20" stroke-width="0.12" font-weight="normal" font-style="normal" >62</text>
<text x="446.25" y="221.63" font-size="6.65" text-anchor="middle" fill="#231f20" stroke="#231f20" stroke-width="0.12" font-weight="normal" font-style="normal" >9.6</text>
<text x="477.50" y="221.63" font-size="6.65" text-anchor="middle" fill="#231f20" stroke="#231f20" stroke-width="0.12" font-weight="normal" font-style="normal" >(6.6-13.2)</text>
<text x="414.50" y="251.04" font-size="6.4" text-anchor="middle" fill="#231f20" stroke="#231f20" stroke-width="0.12" font-weight="normal" font-style="normal" ><tspan font-style="italic">P</tspan> = .12</text>
<path d="M332.70,206.20 L333.84,206.20 L333.84,208.03 L334.99,208.03 L334.99,209.86 L336.13,209.86 L336.13,211.69 L337.27,211.69 L337.27,213.51 L338.41,213.51 L338.41,215.34 L339.56,215.34 L339.56,217.17 L340.70,217.17 L340.70,219.00 L341.00,219.00 L341.00,220.97 L341.30,220.97 L341.30,222.93 L341.60,222.93 L341.60,224.90 L342.23,224.90 L342.23,226.60 L342.85,226.60 L342.85,228.30 L343.48,228.30 L343.48,230.00 L344.10,230.00 L344.10,231.70 L345.23,231.70 L345.23,233.37 L346.37,233.37 L346.37,235.03 L347.50,235.03 L347.50,236.70 L348.15,236.70 L348.15,238.40 L348.80,238.40 L348.80,240.10 L349.20,240.10 L349.20,242.07 L349.60,242.07 L349.60,244.03 L350.00,244.03 L350.00,246.00 L350.48,246.00 L350.48,247.88 L350.95,247.88 L350.95,249.75 L351.42,249.75 L351.42,251.62 L351.90,251.62 L351.90,253.50 L356.00,253.50 L356.00,254.00 L356.85,254.00 L356.85,255.88 L357.70,255.88 L357.70,257.75 L358.55,257.75 L358.55,259.62 L359.40,259.62 L359.40,261.50 L360.77,261.50 L360.77,263.03 L362.13,263.03 L362.13,264.57 L363.50,264.57 L363.50,266.10 L365.50,266.10 L365.50,268.15 L367.50,268.15 L367.50,270.20 L371.25,270.20 L371.25,271.60 L375.00,271.60 L375.00,273.00 L378.40,273.00 L378.40,274.80 L380.75,274.80 L380.75,276.25 L383.10,276.25 L383.10,277.70 L385.40,277.70 L385.40,279.15 L387.70,279.15 L387.70,280.60 L400.40,280.60 L400.40,281.50 L483.90,281.50" fill="none" stroke="#f5a623" stroke-width="1.0" stroke-linejoin="miter" />
<path d="M332.70,206.20 L333.84,206.20 L333.84,208.03 L334.99,208.03 L334.99,209.86 L336.13,209.86 L336.13,211.69 L337.27,211.69 L337.27,213.51 L338.41,213.51 L338.41,215.34 L339.56,215.34 L339.56,217.17 L340.70,217.17 L340.70,219.00 L341.13,219.00 L341.13,220.83 L341.57,220.83 L341.57,222.67 L342.00,222.67 L342.00,224.50 L343.00,224.50 L343.00,226.03 L344.00,226.03 L344.00,227.57 L345.00,227.57 L345.00,229.10 L346.10,229.10 L346.10,231.07 L347.20,231.07 L347.20,233.03 L348.30,233.03 L348.30,235.00 L350.00,235.00 L350.00,236.57 L351.70,236.57 L351.70,238.13 L353.40,238.13 L353.40,239.70 L354.70,239.70 L354.70,241.10 L356.00,241.10 L356.00,242.50 L356.17,242.50 L356.17,244.23 L356.33,244.23 L356.33,245.97 L356.50,245.97 L356.50,247.70 L358.38,247.70 L358.38,249.57 L360.25,249.57 L360.25,251.45 L362.12,251.45 L362.12,253.32 L364.00,253.32 L364.00,255.20 L364.60,255.20 L364.60,257.20 L365.20,257.20 L365.20,259.20 L366.65,259.20 L366.65,260.80 L368.10,260.80 L368.10,262.40 L369.55,262.40 L369.55,264.00 L371.00,264.00 L371.00,265.60 L375.60,265.60 L377.60,265.60 L377.60,267.30 L379.60,267.30 L379.60,269.00 L384.80,269.00 L384.80,269.60 L387.95,269.60 L387.95,271.60 L391.10,271.60 L391.10,273.60 L394.60,273.60 L394.60,275.40 L396.60,275.40 L396.60,277.40 L398.60,277.40 L398.60,279.40 L400.40,279.40 L400.40,281.10 L435.40,281.10" fill="none" stroke="#5e3c8f" stroke-width="1.0" stroke-linejoin="miter" />
<line x1="435.40" y1="280.80" x2="435.40" y2="283.20" stroke="#5e3c8f" stroke-width="0.8"/>
<line x1="483.90" y1="281.20" x2="483.90" y2="283.60" stroke="#f5a623" stroke-width="0.6"/>
<text x="324.50" y="321.72" font-size="6.2" text-anchor="start" fill="#231f20" stroke="#231f20" stroke-width="0.12" font-weight="normal" font-style="normal" >Number at risk</text>
<line x1="316" y1="330" x2="322" y2="330" stroke="#5e3c8f" stroke-width="0.9"/>
<line x1="316" y1="340" x2="322" y2="340" stroke="#f5a623" stroke-width="0.9"/>
<text x="331.25" y="332.40" font-size="6.7" text-anchor="middle" fill="#231f20" stroke="#231f20" stroke-width="0.12" font-weight="normal" font-style="normal" >62</text>
<text x="361.80" y="332.40" font-size="6.7" text-anchor="middle" fill="#231f20" stroke="#231f20" stroke-width="0.12" font-weight="normal" font-style="normal" >20</text>
<text x="392.35" y="332.40" font-size="6.7" text-anchor="middle" fill="#231f20" stroke="#231f20" stroke-width="0.12" font-weight="normal" font-style="normal" >5</text>
<text x="422.90" y="332.40" font-size="6.7" text-anchor="middle" fill="#231f20" stroke="#231f20" stroke-width="0.12" font-weight="normal" font-style="normal" >1</text>
<text x="453.45" y="332.40" font-size="6.7" text-anchor="middle" fill="#231f20" stroke="#231f20" stroke-width="0.12" font-weight="normal" font-style="normal" >0</text>
<text x="484.00" y="332.40" font-size="6.7" text-anchor="middle" fill="#231f20" stroke="#231f20" stroke-width="0.12" font-weight="normal" font-style="normal" >0</text>
<text x="331.25" y="342.40" font-size="6.7" text-anchor="middle" fill="#231f20" stroke="#231f20" stroke-width="0.12" font-weight="normal" font-style="normal" >87</text>
<text x="361.80" y="342.40" font-size="6.7" text-anchor="middle" fill="#231f20" stroke="#231f20" stroke-width="0.12" font-weight="normal" font-style="normal" >14</text>
<text x="392.35" y="342.40" font-size="6.7" text-anchor="middle" fill="#231f20" stroke="#231f20" stroke-width="0.12" font-weight="normal" font-style="normal" >2</text>
<text x="422.90" y="342.40" font-size="6.7" text-anchor="middle" fill="#231f20" stroke="#231f20" stroke-width="0.12" font-weight="normal" font-style="normal" >1</text>
<text x="453.45" y="342.40" font-size="6.7" text-anchor="middle" fill="#231f20" stroke="#231f20" stroke-width="0.12" font-weight="normal" font-style="normal" >1</text>
<text x="484.00" y="342.40" font-size="6.7" text-anchor="middle" fill="#231f20" stroke="#231f20" stroke-width="0.12" font-weight="normal" font-style="normal" >1</text>
<text x="7.30" y="368.54" font-size="10.6" text-anchor="start" fill="#000" stroke="#000" stroke-width="0" font-weight="bold" font-style="normal" >F</text>
<text x="121.20" y="365.71" font-size="8.4" text-anchor="middle" fill="#231f20" stroke="#231f20" stroke-width="0.12" font-weight="normal" font-style="normal" >MDS- EB1 with VAF ≥ 10%</text>
<line x1="36.25" y1="377" x2="36.25" y2="465.3" stroke="#222" stroke-width="1.25"/>
<line x1="33.35" y1="381.25" x2="36.25" y2="381.25" stroke="#222" stroke-width="0.8"/>
<text x="29.95" y="383.61" font-size="6.6" text-anchor="end" fill="#333" stroke="#333" stroke-width="0.12" font-weight="normal" font-style="normal" >100</text>
<line x1="33.35" y1="401.25" x2="36.25" y2="401.25" stroke="#222" stroke-width="0.8"/>
<text x="29.95" y="403.61" font-size="6.6" text-anchor="end" fill="#333" stroke="#333" stroke-width="0.12" font-weight="normal" font-style="normal" >75</text>
<line x1="33.35" y1="421.25" x2="36.25" y2="421.25" stroke="#222" stroke-width="0.8"/>
<text x="29.95" y="423.61" font-size="6.6" text-anchor="end" fill="#333" stroke="#333" stroke-width="0.12" font-weight="normal" font-style="normal" >50</text>
<line x1="33.35" y1="441.25" x2="36.25" y2="441.25" stroke="#222" stroke-width="0.8"/>
<text x="29.95" y="443.61" font-size="6.6" text-anchor="end" fill="#333" stroke="#333" stroke-width="0.12" font-weight="normal" font-style="normal" >25</text>
<line x1="33.35" y1="461.25" x2="36.25" y2="461.25" stroke="#222" stroke-width="0.8"/>
<text x="29.95" y="463.61" font-size="6.6" text-anchor="end" fill="#333" stroke="#333" stroke-width="0.12" font-weight="normal" font-style="normal" >0</text>
<line x1="35.7" y1="465.3" x2="212" y2="465.3" stroke="#222" stroke-width="1.25"/>
<line x1="44.25" y1="465.3" x2="44.25" y2="467.5" stroke="#222" stroke-width="0.8"/>
<text x="44.25" y="477.46" font-size="6.6" text-anchor="middle" fill="#333" stroke="#333" stroke-width="0.12" font-weight="normal" font-style="normal" >0</text>
<line x1="92.15" y1="465.3" x2="92.15" y2="467.5" stroke="#222" stroke-width="0.8"/>
<text x="92.15" y="477.46" font-size="6.6" text-anchor="middle" fill="#333" stroke="#333" stroke-width="0.12" font-weight="normal" font-style="normal" >12</text>
<line x1="140.05" y1="465.3" x2="140.05" y2="467.5" stroke="#222" stroke-width="0.8"/>
<text x="140.05" y="477.46" font-size="6.6" text-anchor="middle" fill="#333" stroke="#333" stroke-width="0.12" font-weight="normal" font-style="normal" >24</text>
<line x1="187.95" y1="465.3" x2="187.95" y2="467.5" stroke="#222" stroke-width="0.8"/>
<text x="187.95" y="477.46" font-size="6.6" text-anchor="middle" fill="#333" stroke="#333" stroke-width="0.12" font-weight="normal" font-style="normal" >36</text>
<text x="0" y="0" transform="translate(13.46,422.20) rotate(-90)" font-size="8" text-anchor="middle" fill="#333" stroke="#333" stroke-width="0.3" textLength="56" lengthAdjust="spacingAndGlyphs">Survival probability (%)</text>
<text x="120.60" y="489.24" font-size="8.5" text-anchor="middle" fill="#333" stroke="#333" stroke-width="0.3" textLength="95.8" lengthAdjust="spacingAndGlyphs">Months since diagnosis of <tspan font-style="italic">TP53</tspan><tspan font-style="italic" font-size="4.8" dy="-3.2">Mut</tspan><tspan dy="3.2"> MN</tspan></text>
<text x="150.40" y="376.98" font-size="6.1" text-anchor="middle" fill="#231f20" stroke="#231f20" stroke-width="0.12" font-weight="normal" font-style="normal" >N</text>
<text x="169.80" y="376.98" font-size="6.1" text-anchor="middle" fill="#231f20" stroke="#231f20" stroke-width="0.12" font-weight="normal" font-style="normal" >Median</text>
<text x="198.00" y="376.98" font-size="6.1" text-anchor="middle" fill="#231f20" stroke="#231f20" stroke-width="0.12" font-weight="normal" font-style="normal" >(95% CI)</text>
<line x1="75" y1="384" x2="82.5" y2="384" stroke="#57a24b" stroke-width="0.9"/>
<line x1="78.70" y1="382.50" x2="78.70" y2="385.50" stroke="#57a24b" stroke-width="0.6"/>
<line x1="75" y1="393.5" x2="82.5" y2="393.5" stroke="#52b0dc" stroke-width="0.9"/>
<line x1="78.70" y1="392.00" x2="78.70" y2="395.00" stroke="#52b0dc" stroke-width="0.6"/>
<text x="85.50" y="386.18" font-size="6.1" text-anchor="start" fill="#231f20" stroke="#231f20" stroke-width="0.12" font-weight="normal" font-style="normal" >Biallelic inactivation</text>
<text x="85.50" y="395.68" font-size="6.1" text-anchor="start" fill="#231f20" stroke="#231f20" stroke-width="0.12" font-weight="normal" font-style="normal" >Monoallelic mutation</text>
<text x="150.40" y="386.18" font-size="6.1" text-anchor="middle" fill="#231f20" stroke="#231f20" stroke-width="0.12" font-weight="normal" font-style="normal" >50</text>
<text x="169.80" y="386.18" font-size="6.1" text-anchor="middle" fill="#231f20" stroke="#231f20" stroke-width="0.12" font-weight="normal" font-style="normal" >9.6</text>
<text x="198.00" y="386.18" font-size="6.1" text-anchor="middle" fill="#231f20" stroke="#231f20" stroke-width="0.12" font-weight="normal" font-style="normal" >(7.2-13.5)</text>
<text x="150.40" y="395.68" font-size="6.1" text-anchor="middle" fill="#231f20" stroke="#231f20" stroke-width="0.12" font-weight="normal" font-style="normal" >12</text>
<text x="169.80" y="395.68" font-size="6.1" text-anchor="middle" fill="#231f20" stroke="#231f20" stroke-width="0.12" font-weight="normal" font-style="normal" >9.8</text>
<text x="198.00" y="395.68" font-size="6.1" text-anchor="middle" fill="#231f20" stroke="#231f20" stroke-width="0.12" font-weight="normal" font-style="normal" >(3.7-NA)</text>
<text x="119.50" y="416.79" font-size="6.4" text-anchor="middle" fill="#231f20" stroke="#231f20" stroke-width="0.12" font-weight="normal" font-style="normal" ><tspan font-style="italic">P</tspan> = .6</text>
<path d="M44.20,381.00 L47.70,381.00 L48.60,381.00 L48.60,382.93 L49.50,382.93 L49.50,384.87 L50.40,384.87 L50.40,386.80 L52.50,386.80 L52.50,388.65 L54.60,388.65 L54.60,390.50 L54.60,394.80 L58.50,394.80 L58.50,409.50 L69.20,409.50 L69.20,418.60 L83.10,418.60 L83.10,432.60 L85.70,432.60 L85.70,446.60 L146.00,446.60 L146.00,461.30" fill="none" stroke="#52b0dc" stroke-width="1.1" stroke-linejoin="miter" />
<path d="M44.20,381.00 L47.70,381.00 L48.60,381.00 L48.60,382.93 L49.50,382.93 L49.50,384.87 L50.40,384.87 L50.40,386.80 L52.30,386.80 L52.30,388.40 L54.20,388.40 L54.20,390.00 L55.63,390.00 L55.63,391.73 L57.07,391.73 L57.07,393.47 L58.50,393.47 L58.50,395.20 L58.80,395.20 L58.80,397.20 L62.30,397.20 L62.40,397.20 L62.40,398.77 L62.50,398.77 L62.50,400.35 L62.60,400.35 L62.60,401.93 L62.70,401.93 L62.70,403.50 L67.40,403.50 L67.40,405.50 L69.15,405.50 L69.15,407.70 L70.90,407.70 L70.90,409.90 L73.50,409.90 L73.50,412.05 L76.10,412.05 L76.10,414.20 L78.70,414.20 L78.70,415.95 L81.30,415.95 L81.30,417.70 L83.10,417.70 L83.10,418.60 L83.55,418.60 L83.55,420.80 L84.00,420.80 L84.00,423.00 L88.30,423.00 L88.30,425.60 L90.95,425.60 L90.95,427.35 L93.60,427.35 L93.60,429.10 L94.73,429.10 L94.73,430.83 L95.87,430.83 L95.87,432.57 L97.00,432.57 L97.00,434.30 L99.65,434.30 L99.65,436.50 L102.30,436.50 L102.30,438.70 L104.05,438.70 L104.05,440.45 L105.80,440.45 L105.80,442.20 L115.40,442.20 L116.70,442.20 L116.70,444.40 L118.00,444.40 L118.00,446.60 L128.20,446.60 L128.20,448.20 L133.20,448.20 L133.20,450.20 L137.30,450.20 L137.30,452.20 L143.30,452.20 L144.30,452.20 L144.30,454.60 L149.40,454.60 L149.40,456.70 L152.40,456.70 L152.40,459.30 L207.30,459.30" fill="none" stroke="#57a24b" stroke-width="1.0" stroke-linejoin="miter" />
<line x1="207.30" y1="458.10" x2="207.30" y2="460.50" stroke="#57a24b" stroke-width="0.6"/>
<line x1="72.10" y1="408.70" x2="72.10" y2="411.10" stroke="#52b0dc" stroke-width="0.6"/>
<text x="36.00" y="499.22" font-size="6.2" text-anchor="start" fill="#231f20" stroke="#231f20" stroke-width="0.12" font-weight="normal" font-style="normal" >Number at risk</text>
<line x1="29.5" y1="507.4" x2="36" y2="507.4" stroke="#57a24b" stroke-width="0.9"/>
<line x1="29.5" y1="517.2" x2="36" y2="517.2" stroke="#52b0dc" stroke-width="0.9"/>
<text x="44.25" y="509.80" font-size="6.7" text-anchor="middle" fill="#231f20" stroke="#231f20" stroke-width="0.12" font-weight="normal" font-style="normal" >50</text>
<text x="92.15" y="509.80" font-size="6.7" text-anchor="middle" fill="#231f20" stroke="#231f20" stroke-width="0.12" font-weight="normal" font-style="normal" >19</text>
<text x="140.05" y="509.80" font-size="6.7" text-anchor="middle" fill="#231f20" stroke="#231f20" stroke-width="0.12" font-weight="normal" font-style="normal" >4</text>
<text x="187.95" y="509.80" font-size="6.7" text-anchor="middle" fill="#231f20" stroke="#231f20" stroke-width="0.12" font-weight="normal" font-style="normal" >1</text>
<text x="44.25" y="519.60" font-size="6.7" text-anchor="middle" fill="#231f20" stroke="#231f20" stroke-width="0.12" font-weight="normal" font-style="normal" >12</text>
<text x="92.15" y="519.60" font-size="6.7" text-anchor="middle" fill="#231f20" stroke="#231f20" stroke-width="0.12" font-weight="normal" font-style="normal" >1</text>
<text x="140.05" y="519.60" font-size="6.7" text-anchor="middle" fill="#231f20" stroke="#231f20" stroke-width="0.12" font-weight="normal" font-style="normal" >1</text>
<text x="187.95" y="519.60" font-size="6.7" text-anchor="middle" fill="#231f20" stroke="#231f20" stroke-width="0.12" font-weight="normal" font-style="normal" >0</text>
<text x="294.90" y="368.29" font-size="10.6" text-anchor="start" fill="#000" stroke="#000" stroke-width="0" font-weight="bold" font-style="normal" >G</text>
<text x="408.75" y="365.89" font-size="8.35" text-anchor="middle" fill="#231f20" stroke="#231f20" stroke-width="0.12" font-weight="normal" font-style="normal" >MDS- EB2 with VAF ≥ 10%</text>
<line x1="323.75" y1="377" x2="323.75" y2="465.3" stroke="#222" stroke-width="1.25"/>
<line x1="320.85" y1="380.75" x2="323.75" y2="380.75" stroke="#222" stroke-width="0.8"/>
<text x="317.45" y="383.11" font-size="6.6" text-anchor="end" fill="#333" stroke="#333" stroke-width="0.12" font-weight="normal" font-style="normal" >100</text>
<line x1="320.85" y1="400.875" x2="323.75" y2="400.875" stroke="#222" stroke-width="0.8"/>
<text x="317.45" y="403.24" font-size="6.6" text-anchor="end" fill="#333" stroke="#333" stroke-width="0.12" font-weight="normal" font-style="normal" >75</text>
<line x1="320.85" y1="421.0" x2="323.75" y2="421.0" stroke="#222" stroke-width="0.8"/>
<text x="317.45" y="423.36" font-size="6.6" text-anchor="end" fill="#333" stroke="#333" stroke-width="0.12" font-weight="normal" font-style="normal" >50</text>
<line x1="320.85" y1="441.125" x2="323.75" y2="441.125" stroke="#222" stroke-width="0.8"/>
<text x="317.45" y="443.49" font-size="6.6" text-anchor="end" fill="#333" stroke="#333" stroke-width="0.12" font-weight="normal" font-style="normal" >25</text>
<line x1="320.85" y1="461.25" x2="323.75" y2="461.25" stroke="#222" stroke-width="0.8"/>
<text x="317.45" y="463.61" font-size="6.6" text-anchor="end" fill="#333" stroke="#333" stroke-width="0.12" font-weight="normal" font-style="normal" >0</text>
<line x1="323.2" y1="465.3" x2="496.25" y2="465.3" stroke="#222" stroke-width="1.25"/>
<line x1="331.25" y1="465.3" x2="331.25" y2="467.5" stroke="#222" stroke-width="0.8"/>
<text x="331.25" y="477.56" font-size="6.6" text-anchor="middle" fill="#333" stroke="#333" stroke-width="0.12" font-weight="normal" font-style="normal" >0</text>
<line x1="362.65" y1="465.3" x2="362.65" y2="467.5" stroke="#222" stroke-width="0.8"/>
<text x="362.65" y="477.56" font-size="6.6" text-anchor="middle" fill="#333" stroke="#333" stroke-width="0.12" font-weight="normal" font-style="normal" >12</text>
<line x1="394.05" y1="465.3" x2="394.05" y2="467.5" stroke="#222" stroke-width="0.8"/>
<text x="394.05" y="477.56" font-size="6.6" text-anchor="middle" fill="#333" stroke="#333" stroke-width="0.12" font-weight="normal" font-style="normal" >24</text>
<line x1="425.45" y1="465.3" x2="425.45" y2="467.5" stroke="#222" stroke-width="0.8"/>
<text x="425.45" y="477.56" font-size="6.6" text-anchor="middle" fill="#333" stroke="#333" stroke-width="0.12" font-weight="normal" font-style="normal" >36</text>
<line x1="456.85" y1="465.3" x2="456.85" y2="467.5" stroke="#222" stroke-width="0.8"/>
<text x="456.85" y="477.56" font-size="6.6" text-anchor="middle" fill="#333" stroke="#333" stroke-width="0.12" font-weight="normal" font-style="normal" >48</text>
<line x1="488.25" y1="465.3" x2="488.25" y2="467.5" stroke="#222" stroke-width="0.8"/>
<text x="488.25" y="477.56" font-size="6.6" text-anchor="middle" fill="#333" stroke="#333" stroke-width="0.12" font-weight="normal" font-style="normal" >60</text>
<text x="0" y="0" transform="translate(302.06,423.60) rotate(-90)" font-size="8" text-anchor="middle" fill="#333" stroke="#333" stroke-width="0.3" textLength="55" lengthAdjust="spacingAndGlyphs">Survival probability (%)</text>
<text x="408.30" y="488.74" font-size="8.5" text-anchor="middle" fill="#333" stroke="#333" stroke-width="0.3" textLength="98.2" lengthAdjust="spacingAndGlyphs">Months since diagnosis of <tspan font-style="italic">TP53</tspan><tspan font-style="italic" font-size="4.8" dy="-3.2">Mut</tspan><tspan dy="3.2"> MN</tspan></text>
<text x="435.75" y="377.22" font-size="6.2" text-anchor="middle" fill="#231f20" stroke="#231f20" stroke-width="0.12" font-weight="normal" font-style="normal" >N</text>
<text x="455.50" y="377.22" font-size="6.2" text-anchor="middle" fill="#231f20" stroke="#231f20" stroke-width="0.12" font-weight="normal" font-style="normal" >Median</text>
<text x="483.75" y="377.22" font-size="6.2" text-anchor="middle" fill="#231f20" stroke="#231f20" stroke-width="0.12" font-weight="normal" font-style="normal" >(95% CI)</text>
<line x1="360.75" y1="383.75" x2="367.5" y2="383.75" stroke="#57a24b" stroke-width="0.9"/>
<line x1="364.00" y1="382.25" x2="364.00" y2="385.25" stroke="#57a24b" stroke-width="0.6"/>
<line x1="360.75" y1="393.75" x2="367.5" y2="393.75" stroke="#52b0dc" stroke-width="0.9"/>
<line x1="364.00" y1="392.25" x2="364.00" y2="395.25" stroke="#52b0dc" stroke-width="0.6"/>
<text x="370.75" y="385.97" font-size="6.2" text-anchor="start" fill="#231f20" stroke="#231f20" stroke-width="0.12" font-weight="normal" font-style="normal" >Biallelic inactivation</text>
<text x="370.75" y="395.97" font-size="6.2" text-anchor="start" fill="#231f20" stroke="#231f20" stroke-width="0.12" font-weight="normal" font-style="normal" >Monoallelic mutation</text>
<text x="435.75" y="385.97" font-size="6.2" text-anchor="middle" fill="#231f20" stroke="#231f20" stroke-width="0.12" font-weight="normal" font-style="normal" >69</text>
<text x="455.50" y="385.97" font-size="6.2" text-anchor="middle" fill="#231f20" stroke="#231f20" stroke-width="0.12" font-weight="normal" font-style="normal" >7.4</text>
<text x="483.75" y="385.97" font-size="6.2" text-anchor="middle" fill="#231f20" stroke="#231f20" stroke-width="0.12" font-weight="normal" font-style="normal" >(6.4-9.9)</text>
<text x="435.75" y="395.97" font-size="6.2" text-anchor="middle" fill="#231f20" stroke="#231f20" stroke-width="0.12" font-weight="normal" font-style="normal" >18</text>
<text x="455.50" y="395.97" font-size="6.2" text-anchor="middle" fill="#231f20" stroke="#231f20" stroke-width="0.12" font-weight="normal" font-style="normal" >6.7</text>
<text x="483.75" y="395.97" font-size="6.2" text-anchor="middle" fill="#231f20" stroke="#231f20" stroke-width="0.12" font-weight="normal" font-style="normal" >(4.7-NA)</text>
<text x="417.00" y="417.29" font-size="6.4" text-anchor="middle" fill="#231f20" stroke="#231f20" stroke-width="0.12" font-weight="normal" font-style="normal" ><tspan font-style="italic">P</tspan> = .15</text>
<path d="M331.80,381.00 L332.65,381.00 L332.65,383.10 L333.50,383.10 L333.50,385.20 L338.20,385.20 L338.20,390.50 L340.30,390.50 L340.40,390.50 L340.40,392.20 L340.50,392.20 L340.50,393.90 L340.60,393.90 L340.60,395.60 L340.70,395.60 L340.70,397.30 L340.80,397.30 L340.80,399.00 L342.40,399.00 L342.40,405.50 L344.45,405.50 L344.45,407.65 L346.50,407.65 L346.50,409.80 L346.80,409.80 L346.80,411.80 L347.10,411.80 L347.10,413.80 L347.40,413.80 L347.40,415.80 L349.00,415.80 L349.00,417.40 L349.00,426.90 L358.50,426.90 L358.50,434.10 L415.00,434.10 L415.00,447.50 L488.25,447.50" fill="none" stroke="#52b0dc" stroke-width="1.1" stroke-linejoin="miter" />
<line x1="488.25" y1="446.30" x2="488.25" y2="448.70" stroke="#52b0dc" stroke-width="0.6"/>
<path d="M331.80,381.00 L332.60,381.00 L332.60,383.70 L334.20,383.70 L334.20,385.60 L335.15,385.60 L335.15,387.70 L336.10,387.70 L336.10,389.80 L337.23,389.80 L337.23,391.37 L338.37,391.37 L338.37,392.93 L339.50,392.93 L339.50,394.50 L339.83,394.50 L339.83,396.28 L340.17,396.28 L340.17,398.07 L340.50,398.07 L340.50,399.85 L340.83,399.85 L340.83,401.63 L341.17,401.63 L341.17,403.42 L341.50,403.42 L341.50,405.20 L343.17,405.20 L343.17,406.73 L344.83,406.73 L344.83,408.27 L346.50,408.27 L346.50,409.80 L347.52,409.80 L347.52,411.43 L348.55,411.43 L348.55,413.05 L349.58,413.05 L349.58,414.68 L350.60,414.68 L350.60,416.30 L350.74,416.30 L350.74,418.20 L350.89,418.20 L350.89,420.10 L351.03,420.10 L351.03,422.00 L351.17,422.00 L351.17,423.90 L351.31,423.90 L351.31,425.80 L351.46,425.80 L351.46,427.70 L351.60,427.70 L351.60,429.60 L353.20,429.60 L353.20,431.20 L355.90,431.20 L356.70,431.20 L356.70,433.05 L357.50,433.05 L357.50,434.90 L358.25,434.90 L358.25,436.45 L359.00,436.45 L359.00,438.00 L360.60,438.00 L360.60,439.85 L362.20,439.85 L362.20,441.70 L363.80,441.70 L363.80,443.30 L365.40,443.30 L365.40,444.90 L366.47,444.90 L366.47,446.67 L367.53,446.67 L367.53,448.43 L368.60,448.43 L368.60,450.20 L371.70,450.20 L374.90,450.20 L374.90,451.80 L377.00,451.80 L377.00,454.40 L379.20,454.40 L379.20,455.30 L382.30,455.30 L382.30,455.50 L385.50,455.50 L385.50,458.10 L389.20,458.10 L389.20,460.80" fill="none" stroke="#57a24b" stroke-width="1.0" stroke-linejoin="miter" />
<text x="323.50" y="498.72" font-size="6.2" text-anchor="start" fill="#231f20" stroke="#231f20" stroke-width="0.12" font-weight="normal" font-style="normal" >Number at risk</text>
<line x1="317" y1="507.1" x2="322.6" y2="507.1" stroke="#57a24b" stroke-width="0.9"/>
<line x1="317" y1="517.1" x2="322.6" y2="517.1" stroke="#52b0dc" stroke-width="0.9"/>
<text x="331.25" y="509.50" font-size="6.7" text-anchor="middle" fill="#231f20" stroke="#231f20" stroke-width="0.12" font-weight="normal" font-style="normal" >69</text>
<text x="362.65" y="509.50" font-size="6.7" text-anchor="middle" fill="#231f20" stroke="#231f20" stroke-width="0.12" font-weight="normal" font-style="normal" >12</text>
<text x="394.05" y="509.50" font-size="6.7" text-anchor="middle" fill="#231f20" stroke="#231f20" stroke-width="0.12" font-weight="normal" font-style="normal" >0</text>
<text x="425.45" y="509.50" font-size="6.7" text-anchor="middle" fill="#231f20" stroke="#231f20" stroke-width="0.12" font-weight="normal" font-style="normal" >0</text>
<text x="456.85" y="509.50" font-size="6.7" text-anchor="middle" fill="#231f20" stroke="#231f20" stroke-width="0.12" font-weight="normal" font-style="normal" >0</text>
<text x="488.25" y="509.50" font-size="6.7" text-anchor="middle" fill="#231f20" stroke="#231f20" stroke-width="0.12" font-weight="normal" font-style="normal" >0</text>
<text x="331.25" y="519.50" font-size="6.7" text-anchor="middle" fill="#231f20" stroke="#231f20" stroke-width="0.12" font-weight="normal" font-style="normal" >18</text>
<text x="362.65" y="519.50" font-size="6.7" text-anchor="middle" fill="#231f20" stroke="#231f20" stroke-width="0.12" font-weight="normal" font-style="normal" >2</text>
<text x="394.05" y="519.50" font-size="6.7" text-anchor="middle" fill="#231f20" stroke="#231f20" stroke-width="0.12" font-weight="normal" font-style="normal" >2</text>
<text x="425.45" y="519.50" font-size="6.7" text-anchor="middle" fill="#231f20" stroke="#231f20" stroke-width="0.12" font-weight="normal" font-style="normal" >1</text>
<text x="456.85" y="519.50" font-size="6.7" text-anchor="middle" fill="#231f20" stroke="#231f20" stroke-width="0.12" font-weight="normal" font-style="normal" >1</text>
<text x="488.25" y="519.50" font-size="6.7" text-anchor="middle" fill="#231f20" stroke="#231f20" stroke-width="0.12" font-weight="normal" font-style="normal" >1</text>
<rect x="0.5" y="0.5" width="519" height="526" fill="none" stroke="#555" stroke-width="1"/>
</svg>
</body></html>
